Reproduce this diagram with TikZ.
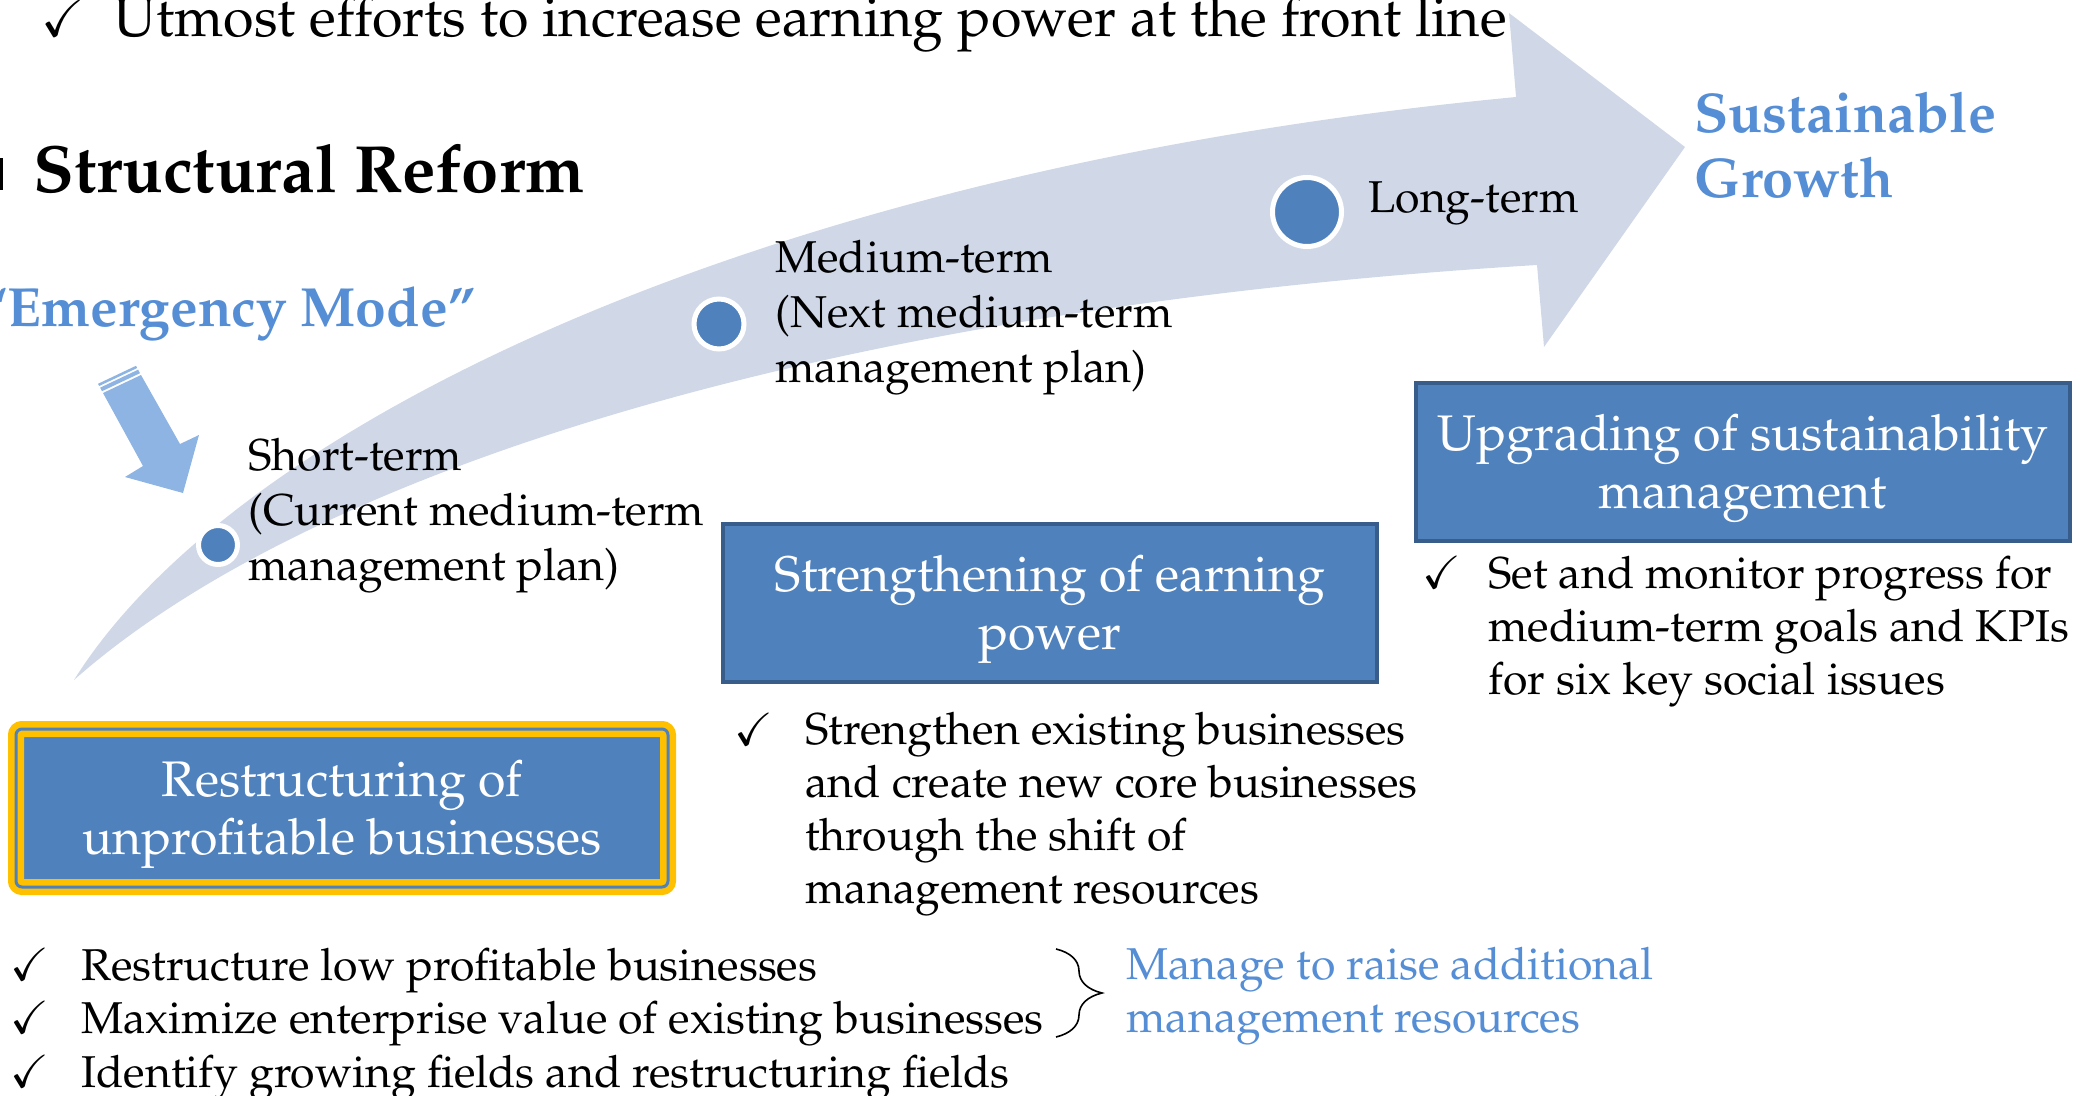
\documentclass[tikz,border=0pt]{standalone}
\usepackage[T1]{fontenc}
\usepackage{mathpazo}
\usepackage{amssymb}
\usetikzlibrary{decorations.pathreplacing}

\definecolor{boxblue}{HTML}{4F81BD}
\definecolor{boxedge}{HTML}{385D8A}
\definecolor{pathgray}{HTML}{D0D8E8}
\definecolor{arrowblue}{HTML}{8DB4E2}
\definecolor{textblue}{HTML}{558ED5}
\definecolor{gold}{HTML}{FFC000}

\newcommand{\bodyfont}{\fontsize{22.3}{26.5}\selectfont}
\newcommand{\boxfont}{\fontsize{25}{29}\selectfont}
% taller first line pushes box text a little down
\newcommand{\topstrut}{\rule{0pt}{24.5pt}}

\tikzstyle{plan} = [rectangle, minimum width=327pt, minimum height=79pt, text centered, align=center, draw=boxedge, line width=2pt, fill=boxblue, text=white, font=\boxfont]
\tikzstyle{urgent} = [rectangle, rounded corners=3pt, minimum width=326pt, minimum height=79pt, text centered, align=center, draw=gold, double=boxblue, double distance=1.5pt, line width=3.25pt, fill=boxblue, text=white, font=\boxfont]
\tikzstyle{point} = [anchor=base west, align=left, inner sep=0pt, font=\bodyfont]
\tikzstyle{tick} = [anchor=base west, inner sep=0pt, font=\bodyfont]
\tikzstyle{milestone} = [circle, inner sep=0pt, fill=boxblue, draw=white, line width=2.5pt]

\begin{document}
\begin{tikzpicture}[x=0.5pt, y=-0.5pt]

\useasboundingbox (0,0) rectangle (2087,1096);

% big curved arrow towards the goal
\coordinate (tail) at (74,680);
\fill [pathgray] (tail) .. controls (230,430) and (750,170) .. (1516,97) -- (1509,13) -- (1685,147) -- (1544,347) -- (1537,265) .. controls (800,310) and (300,480) .. (tail) -- cycle;

% small striped arrow
\fill [arrowblue] (103,393) -- (143,466) -- (125,477) -- (183,493) -- (199,435) -- (180,444) -- (141,375) -- cycle;
\fill [arrowblue] (102.0,391.2) -- (140.0,373.2) -- (138.1,369.7) -- (100.1,387.7) -- cycle;
\fill [arrowblue] (99.2,386.0) -- (137.2,368.0) -- (136.0,365.8) -- (98.0,383.8) -- cycle;

% headings (multi-line nodes sit on the baseline of their last line)
\node (tick0) [tick, font=\fontsize{25}{30}\selectfont] at (41,37) {$\checkmark$};
\node (effort) [point, font=\fontsize{27.8}{33}\selectfont] at (113,37) {Utmost efforts to increase earning power at the front line};
\fill (0,158) rectangle (3,190);
\node (reform) [point, font=\fontsize{33.4}{40}\selectfont\bfseries] at (33,193) {Structural Reform};
\node (emergency) [anchor=base east, inner sep=0pt, text=textblue, font=\fontsize{27.6}{34}\selectfont\bfseries] at (476,327) {``Emergency Mode''};
\node (goal) [point, text=textblue, font=\fontsize{28}{32.5}\selectfont\bfseries] at (1694,198) {Sustainable\\Growth};

% milestones on the arrow
\node (short) [milestone, minimum size=19.5pt] at (218,545) {};
\node (medium) [milestone, minimum size=25pt] at (719,324) {};
\node (long) [milestone, minimum size=34.5pt] at (1307,212) {};
\node (shortlbl) [point, font=\fontsize{22.3}{27.5}\selectfont] at (248,580) {Short-term\\(Current medium-term\\management plan)};
\node (mediumlbl) [point, font=\fontsize{22.3}{27.5}\selectfont] at (775,383) {Medium-term\\(Next medium-term\\management plan)};
\node (longlbl) [point, font=\fontsize{22.3}{27.5}\selectfont] at (1368,213) {Long-term};

% the three themes
\node (restructure) [urgent] at (342,808) {\topstrut Restructuring of\\unprofitable businesses};
\node (earning) [plan] at (1050,603) {\topstrut Strengthening of earning\\power};
\node (sustain) [plan] at (1743,462) {\topstrut Upgrading of sustainability\\management};

\node (tick1) [tick] at (1422,588) {$\checkmark$};
\node (sustainpts) [point] at (1488,694) {Set and monitor progress for\\medium-term goals and KPIs\\for six key social issues};
\node (tick2) [tick] at (734,745) {$\checkmark$};
\node (earningpts) [point] at (805,903) {Strengthen existing businesses\\and create new core businesses\\through the shift of\\management resources};

\node (tick3) [tick] at (10,980) {$\checkmark$};
\node (tick4) [tick] at (10,1033) {$\checkmark$};
\node (tick5) [tick] at (10,1087) {$\checkmark$};
\node (pt1) [point] at (81,980) {Restructure low profitable businesses};
\node (pt2) [point] at (81,1033) {Maximize enterprise value of existing businesses};
\node (pt3) [point] at (81,1087) {Identify growing fields and restructuring fields};

\coordinate (bracetop) at (1056,949);
\coordinate (bracebot) at (1056,1037);
\draw [line width=0.8pt, decorate, decoration={brace, amplitude=23pt}] (bracetop) -- (bracebot);
\node (resources) [point, text=textblue] at (1126,1032) {Manage to raise additional\\management resources};

\end{tikzpicture}
\end{document}
